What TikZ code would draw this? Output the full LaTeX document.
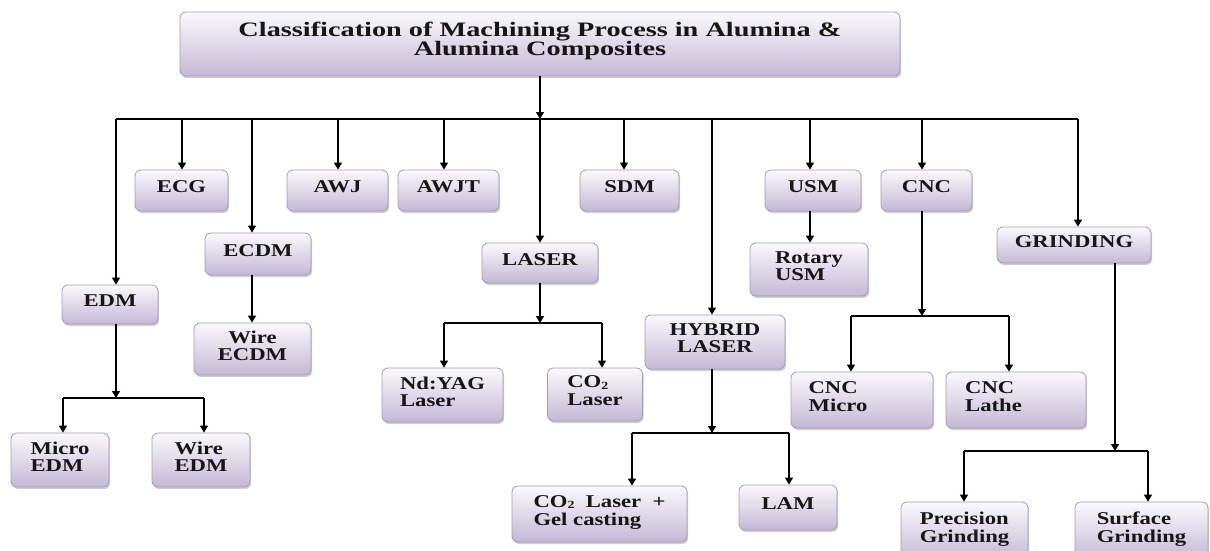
\documentclass[tikz,border=0pt]{standalone}
\usepackage{fontspec}
\usetikzlibrary{arrows.meta,shadows}
\newfontfamily\lblfont[FakeStretch=1.26]{Liberation Serif}
\newfontfamily\ttlfont[FakeStretch=1.38]{Liberation Serif}
\definecolor{boxtop}{RGB}{250,249,252}
\definecolor{boxbot}{RGB}{196,185,213}
\definecolor{boxedge}{RGB}{165,155,180}
\definecolor{ink}{RGB}{22,22,22}
\newcommand\lb[2][l]{\raisebox{1pt}[\height][\depth]{\begin{tabular}{@{}#1@{}}#2\end{tabular}}}
\newcommand\subtwo{\raisebox{-1.5pt}{\fontsize{11}{11}\selectfont 2}}
\tikzset{
  box/.style={rectangle, rounded corners=6pt, draw=boxedge, line width=0.8pt,
    top color=boxtop, bottom color=boxbot, inner sep=0pt, text=ink,
    font=\lblfont\bfseries\fontsize{18}{17}\selectfont,
    drop shadow={shadow xshift=1.2pt, shadow yshift=-2pt, opacity=0.35, fill=black!55}},
  line/.style={draw=black, line width=1.2pt},
  arr/.style={line, -{Triangle[width=8pt,length=7pt]}}
}
\begin{document}
\begin{tikzpicture}[x=1pt,y=-1pt]
\useasboundingbox (0,0) rectangle (1210,551);
% title
\node[box, minimum width=720pt, minimum height=64pt,
  font=\ttlfont\bfseries\fontsize{20.5}{16.5}\selectfont] (title) at (540,44)
  {\raisebox{3pt}[\height][\depth]{\begin{tabular}{@{}c@{}}Classification of Machining Process in Alumina \&\\Alumina Composites\end{tabular}}};
% first level
\node[box, minimum width=96pt, minimum height=39pt] (edm) at (110,304.5) {\lb{EDM}};
\node[box, minimum width=93pt, minimum height=41pt] (ecg) at (181.5,190.5) {\lb{ECG}};
\node[box, minimum width=106pt, minimum height=42pt] (ecdm) at (258,254) {\lb{ECDM}};
\node[box, minimum width=101pt, minimum height=41pt] (awj) at (337.5,190.5) {\lb{AWJ}};
\node[box, minimum width=101pt, minimum height=41pt] (awjt) at (448.5,190.5) {\lb{AWJT}};
\node[box, minimum width=116pt, minimum height=40pt] (laser) at (540,263) {\lb{LASER}};
\node[box, minimum width=99pt, minimum height=41pt] (sdm) at (629.5,190.5) {\lb{SDM}};
\node[box, minimum width=140pt, minimum height=54pt] (hybrid) at (715,342) {\lb[c]{HYBRID\\LASER}};
\node[box, minimum width=96pt, minimum height=41pt] (usm) at (813,190.5) {\lb{USM}};
\node[box, minimum width=91pt, minimum height=41pt] (cnc) at (926.5,190.5) {\lb{CNC}};
\node[box, minimum width=154pt, minimum height=36pt] (grinding) at (1074,245) {\lb{GRINDING}};
% second level
\node[box, minimum width=98pt, minimum height=54pt] (microedm) at (60,460) {\lb{Micro\\EDM}};
\node[box, minimum width=98pt, minimum height=54pt] (wireedm) at (201,460) {\lb{Wire\\EDM}};
\node[box, minimum width=117pt, minimum height=52pt] (wecdm) at (252.5,349) {\lb[c]{Wire\\ECDM}};
\node[box, minimum width=121pt, minimum height=54pt] (ndyag) at (442.5,395) {\lb{Nd:YAG\\Laser}};
\node[box, minimum width=95pt, minimum height=53pt] (co2) at (595,394.5) {\lb{CO\subtwo\\[1pt]Laser}};
\node[box, minimum width=175pt, minimum height=56pt] (co2gel) at (599.5,514) {\lb{CO\subtwo\ \ Laser\ \ +\\[1pt]Gel casting}};
\node[box, minimum width=98pt, minimum height=45pt] (lam) at (788,507.5) {\lb{LAM}};
\node[box, minimum width=118pt, minimum height=53pt] (rotusm) at (809,269.5) {\lb{Rotary\\USM}};
\node[box, minimum width=142pt, minimum height=56pt] (cncmicro) at (862,400) {\raisebox{1pt}[\height][\depth]{\begin{tabular}{@{}l@{\hspace{48pt}}}CNC\\Micro\end{tabular}}};
\node[box, minimum width=140pt, minimum height=56pt] (cnclathe) at (1016,400) {\raisebox{1pt}[\height][\depth]{\begin{tabular}{@{}l@{\hspace{45pt}}}CNC\\Lathe\end{tabular}}};
\node[box, minimum width=127pt, minimum height=58pt] (precision) at (964.5,531) {\lb{Precision\\Grinding}};
\node[box, minimum width=133pt, minimum height=58pt] (surface) at (1141.5,531) {\lb{Surface\\Grinding}};
% main trunk and bus
\coordinate (top) at (540,119);
\coordinate (busL) at (116,119);
\coordinate (busR) at (1078,119);
\draw[arr] (title.south -| top) -- (top);
\draw[line] (busL) -- (busR);
\foreach \x/\n in {116/edm,182/ecg,252/ecdm,338/awj,444/awjt,540/laser,624/sdm,712/hybrid,810/usm,922/cnc,1078/grinding}{
  \coordinate (d-\n) at (\x,119);
  \draw[arr] (d-\n) -- (d-\n |- \n.north);
}
% EDM subtree
\coordinate (e0) at (116,398); \coordinate (e1) at (63,398); \coordinate (e2) at (204,398);
\draw[arr] (edm.south -| e0) -- (e0);
\draw[line] (e1) -- (e2);
\draw[arr] (e1) -- (e1 |- microedm.north);
\draw[arr] (e2) -- (e2 |- wireedm.north);
% ECDM
\coordinate (c0) at (252,300);
\draw[arr] (ecdm.south -| c0) -- (c0 |- wecdm.north);
% LASER subtree
\coordinate (l0) at (540,323); \coordinate (l1) at (444,323); \coordinate (l2) at (602,323);
\draw[arr] (laser.south -| l0) -- (l0);
\draw[line] (l1) -- (l2);
\draw[arr] (l1) -- (l1 |- ndyag.north);
\draw[arr] (l2) -- (l2 |- co2.north);
% HYBRID subtree
\coordinate (h0) at (712,433); \coordinate (h1) at (632,433); \coordinate (h2) at (789,433);
\draw[arr] (hybrid.south -| h0) -- (h0);
\draw[line] (h1) -- (h2);
\draw[arr] (h1) -- (h1 |- co2gel.north);
\draw[arr] (h2) -- (h2 |- lam.north);
% USM
\coordinate (u0) at (810,230);
\draw[arr] (usm.south -| u0) -- (u0 |- rotusm.north);
% CNC subtree
\coordinate (n0) at (922,316); \coordinate (n1) at (851,316); \coordinate (n2) at (1009,316);
\draw[arr] (cnc.south -| n0) -- (n0);
\draw[line] (n1) -- (n2);
\draw[arr] (n1) -- (n1 |- cncmicro.north);
\draw[arr] (n2) -- (n2 |- cnclathe.north);
% GRINDING subtree
\coordinate (g0) at (1115,451); \coordinate (g1) at (964,451); \coordinate (g2) at (1148,451);
\draw[arr] (grinding.south -| g0) -- (g0);
\draw[line] (g1) -- (g2);
\draw[arr] (g1) -- (g1 |- precision.north);
\draw[arr] (g2) -- (g2 |- surface.north);
\end{tikzpicture}
\end{document}
